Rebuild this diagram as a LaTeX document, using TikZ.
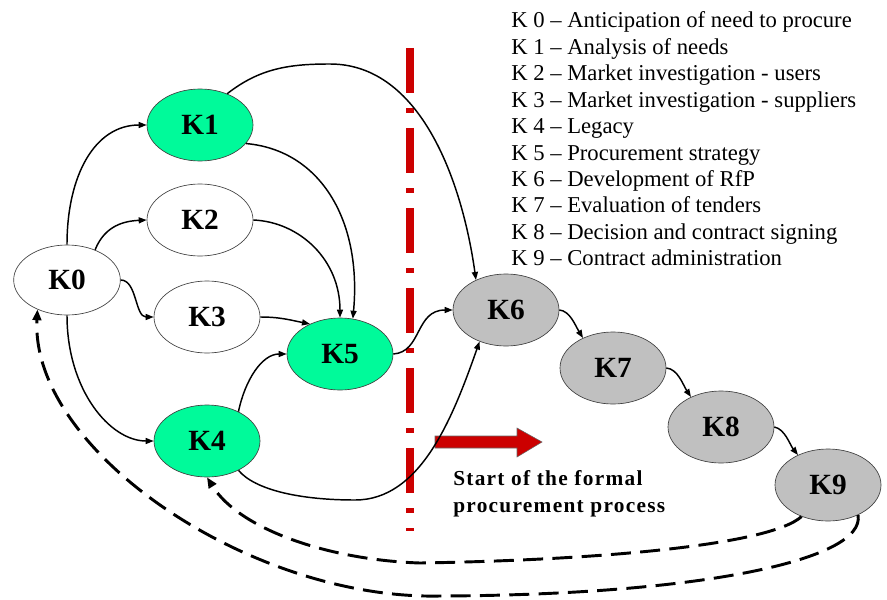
\documentclass[tikz,border=0pt]{standalone}
\usepackage{fontspec}
\setmainfont{Liberation Serif}
\usetikzlibrary{arrows.meta,shapes.geometric}
\definecolor{kgreen}{RGB}{0,250,154}
\definecolor{kgray}{RGB}{192,192,192}
\definecolor{kred}{RGB}{204,0,0}
\begin{document}
\begin{tikzpicture}[x=0.75pt,y=-0.75pt,
  kn/.style={ellipse, draw=black!75, line width=0.5pt, minimum width=79.5pt, minimum height=54pt, inner sep=0pt, font=\fontsize{22}{24}\selectfont\bfseries},
  link/.style={line width=1.1pt, -{Triangle[length=6pt,width=4.5pt]}},
  back/.style={line width=2.2pt, dash pattern=on 15pt off 7pt, -{Triangle[length=8pt,width=6.5pt]}},
  leg/.style={anchor=base west, inner sep=0pt, font=\fontsize{17}{20}\selectfont},
  startlbl/.style={anchor=base west, inner sep=0pt, font=\fontsize{16}{20}\selectfont\bfseries\addfontfeature{LetterSpace=6}}]
\useasboundingbox (0,0) rectangle (887,599);
% nodes
\node[kn, minimum width=80pt, minimum height=52.5pt] (K0) at (67,280) {K0};
\node[kn, fill=kgreen] (K1) at (200,125) {K1};
\node[kn] (K2) at (200,220) {K2};
\node[kn] (K3) at (207,317) {K3};
\node[kn, fill=kgreen] (K4) at (207,441) {K4};
\node[kn, fill=kgreen] (K5) at (340,354) {K5};
\node[kn, fill=kgray] (K6) at (506,310) {K6};
\node[kn, fill=kgray] (K7) at (613,368) {K7};
\node[kn, fill=kgray] (K8) at (721,427) {K8};
\node[kn, fill=kgray] (K9) at (828,485) {K9};
% red dash-dot line
\draw[kred, line width=5.8pt, dash pattern=on 34pt off 11pt on 4pt off 11pt] (410,48) -- (410,531);
% red arrow
\draw[fill=kred, draw=black!60, line width=0.4pt] (435,436) -- (517,436) -- (517,428) -- (542,442) -- (517,457) -- (517,448) -- (435,448) -- cycle;
% legend
\node[leg] (L0) at (511,28) {K 0 – Anticipation of need to procure};
\node[leg] (L1) at (511,54.4) {K 1 – Analysis of needs};
\node[leg] (L2) at (511,80.8) {K 2 – Market investigation - users};
\node[leg] (L3) at (511,107.2) {K 3 – Market investigation - suppliers};
\node[leg] (L4) at (511,133.6) {K 4 – Legacy};
\node[leg] (L5) at (511,160) {K 5 – Procurement strategy};
\node[leg] (L6) at (511,186.4) {K 6 – Development of RfP};
\node[leg] (L7) at (511,212.8) {K 7 – Evaluation of tenders};
\node[leg] (L8) at (511,239.2) {K 8 – Decision and contract signing};
\node[leg] (L9) at (511,265.6) {K 9 – Contract administration};
% start label
\node[startlbl] (S1) at (453,485) {Start of the formal};
\node[startlbl] (S2) at (453,512) {procurement process};
% solid connectors
\draw[link] (K0.north) .. controls (67,175) and (95,125) .. (K1.west);
\draw[link] (K0.47) .. controls (105,225) and (125,221) .. (K2.west);
\draw[link] (K0.east) .. controls (137,280) and (135,317) .. (K3.west);
\draw[link] (K0.south) .. controls (67,390) and (110,441) .. (K4.west);
\draw[link] (K1.-22) .. controls (320,150) and (362,220) .. (K5.70);
\draw[link] (K2.east) .. controls (300,222) and (340,260) .. (K5.north);
\draw[link] (K3.east) .. controls (280,317) and (290,320) .. (K5.135);
\draw[link] (K4.43) .. controls (245,380) and (262,354) .. (K5.west);
\draw[link] (K4.-43) .. controls (255,490) and (300,500) .. (355,500) .. controls (420,500) and (452,420) .. (K6.-130);
\draw[link] (K5.east) .. controls (422,352) and (415,310) .. (K6.west);
\draw[link] (K1.49) .. controls (260,68) and (290,64) .. (330,64) .. controls (420,64) and (462,180) .. (K6.135);
\draw[link] (K6.east) .. controls (570,311) and (575,325) .. (K7.135);
\draw[link] (K7.east) .. controls (678,369) and (683,385) .. (K8.135);
\draw[link] (K8.east) .. controls (785,429) and (790,445) .. (K9.135);
% dashed feedback connectors
\draw[back] (K9.-130) .. controls (770,545) and (600,560) .. (420,563) .. controls (330,560) and (240,530) .. (K4.south);
\draw[back] (K9.-45) .. controls (866,560) and (700,595) .. (440,596) .. controls (250,600) and (30,450) .. (K0.225);
\end{tikzpicture}
\end{document}
